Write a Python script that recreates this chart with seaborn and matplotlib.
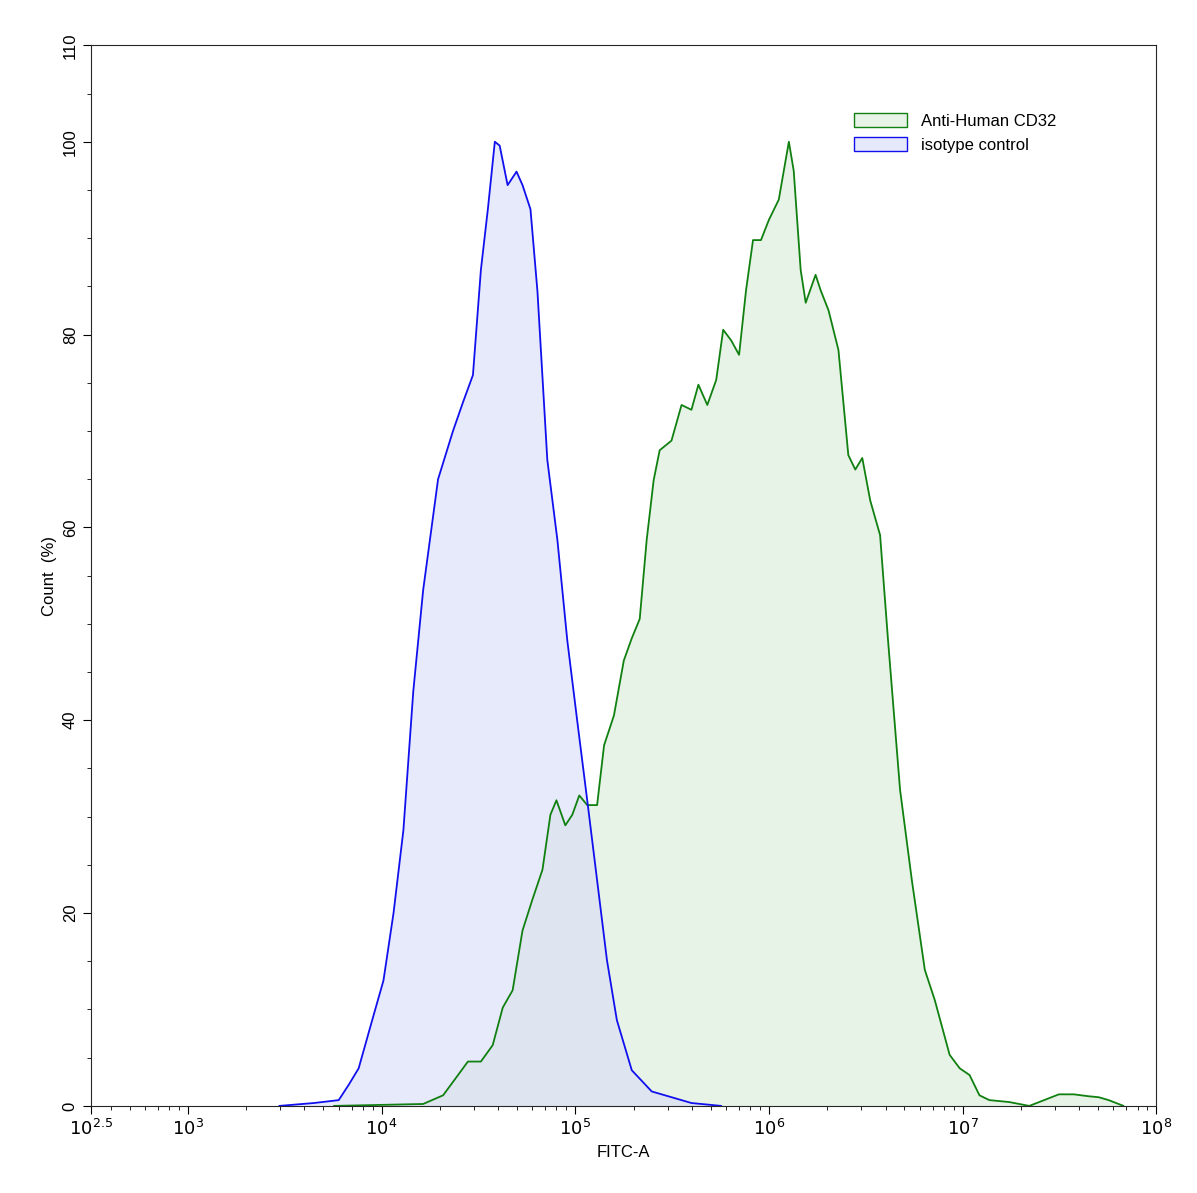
import numpy as np
import pandas as pd
import matplotlib
matplotlib.use("Agg")
import matplotlib.pyplot as plt
import seaborn as sns
from matplotlib.patches import Patch
from matplotlib.ticker import MultipleLocator, FixedLocator, LogLocator, NullFormatter

sns.set_style("ticks")
plt.rcParams['font.family'] = ['Liberation Sans', 'DejaVu Sans']
plt.rcParams['text.color'] = 'black'
plt.rcParams['axes.labelcolor'] = 'black'
plt.rcParams['xtick.color'] = 'black'
plt.rcParams['ytick.color'] = 'black'

iso_logx = [3.472,3.651,3.779,3.831,3.882,3.959,4.010,4.062,4.113,4.164,4.215,4.292,4.369,4.421,4.472,4.513,4.549,4.585,4.610,4.651,4.697,4.728,4.769,4.805,4.856,4.908,4.959,5.010,5.062,5.113,5.164,5.215,5.292,5.395,5.600,5.754]
iso_y = [0,0.3,0.6,2.2,3.9,9.4,13,20,28.6,43,53.5,65,70,73,75.8,86.7,93,100,99.6,95.5,96.9,95.5,93,84.5,67,58.7,48.3,40,31.7,23.4,15.1,8.9,3.7,1.5,0.3,0]

cd32_logx = [3.754,4.215,4.318,4.395,4.446,4.513,4.574,4.626,4.677,4.728,4.779,4.831,4.872,4.903,4.949,4.985,5.021,5.062,5.113,5.149,5.200,5.251,5.292,5.333,5.369,5.405,5.436,5.497,5.549,5.600,5.636,5.682,5.728,5.764,5.805,5.846,5.882,5.918,5.959,6.000,6.051,6.103,6.128,6.164,6.190,6.241,6.267,6.308,6.359,6.410,6.446,6.482,6.523,6.574,6.615,6.677,6.738,6.805,6.856,6.933,6.985,7.036,7.087,7.138,7.241,7.344,7.421,7.497,7.574,7.651,7.703,7.754,7.831]
cd32_y = [0,0.2,1.1,3.2,4.6,4.6,6.3,10.2,12,18.2,21.4,24.5,30.2,31.7,29.1,30.2,32.2,31.2,31.2,37.4,40.5,46.2,48.5,50.5,58.7,64.9,68,69,72.7,72.2,74.8,72.7,75.3,80.5,79.4,77.9,84.6,89.8,89.8,91.9,94,100,97,86.7,83.3,86.2,84.6,82.5,78.4,67.5,66,67.2,62.8,59.2,48.3,32.8,23.4,14.1,11,5.3,3.9,3.2,1.1,0.6,0.4,0,0.6,1.2,1.2,1.0,0.9,0.6,0]

xtick_exps = [2.5,3,4,5,6,7,8]
xtick_labels = [r"$10^{2.5}$", r"$10^{3}$", r"$10^{4}$", r"$10^{5}$", r"$10^{6}$", r"$10^{7}$", r"$10^{8}$"]
ytick_vals = [0,20,40,60,80,100,110]

fig = plt.figure(figsize=(11.97, 11.93), dpi=100)
ax = fig.add_axes([0.076, 0.073, 0.89, 0.889])

dfg = pd.DataFrame({"x": 10**np.array(cd32_logx), "y": cd32_y})
dfb = pd.DataFrame({"x": 10**np.array(iso_logx), "y": iso_y})

ax.fill_between(dfg.x, dfg.y, color="#e8f3e8", lw=0)
ax.fill_between(dfb.x, dfb.y, color="#d8dcf8", alpha=0.6, lw=0)
sns.lineplot(data=dfg, x="x", y="y", ax=ax, color="#108010", lw=1.3, sort=False)
sns.lineplot(data=dfb, x="x", y="y", ax=ax, color="#1010ee", lw=1.3, sort=False)

ax.set_xscale("log")
ax.set_xlim(10**2.5, 1e8)
ax.set_ylim(0, 110)
ax.xaxis.set_major_locator(FixedLocator([10**e for e in xtick_exps]))
ax.set_xticklabels(xtick_labels, fontsize=13)
ax.xaxis.set_minor_locator(LogLocator(base=10, subs=np.arange(2, 10)))
ax.xaxis.set_minor_formatter(NullFormatter())
ax.yaxis.set_major_locator(FixedLocator(ytick_vals))
ax.set_yticklabels([str(v) for v in ytick_vals], fontsize=12, rotation=90, va="center")
ax.yaxis.set_minor_locator(MultipleLocator(5))
ax.tick_params(which="major", length=6)
ax.tick_params(which="minor", length=3)
ax.set_xlabel("FITC-A", fontsize=12)
ax.set_ylabel("Count  (%)", fontsize=12)

handles = [Patch(facecolor="#e8f3e8", edgecolor="#108010", label="Anti-Human CD32"),
           Patch(facecolor="#e6e8fb", edgecolor="#1010ee", label="isotype control")]
ax.legend(handles=handles, loc="upper right", bbox_to_anchor=(0.92, 0.95), frameon=False, fontsize=12,
          handlelength=3.2, handleheight=0.9)

fig.savefig("out.png", dpi=100)
